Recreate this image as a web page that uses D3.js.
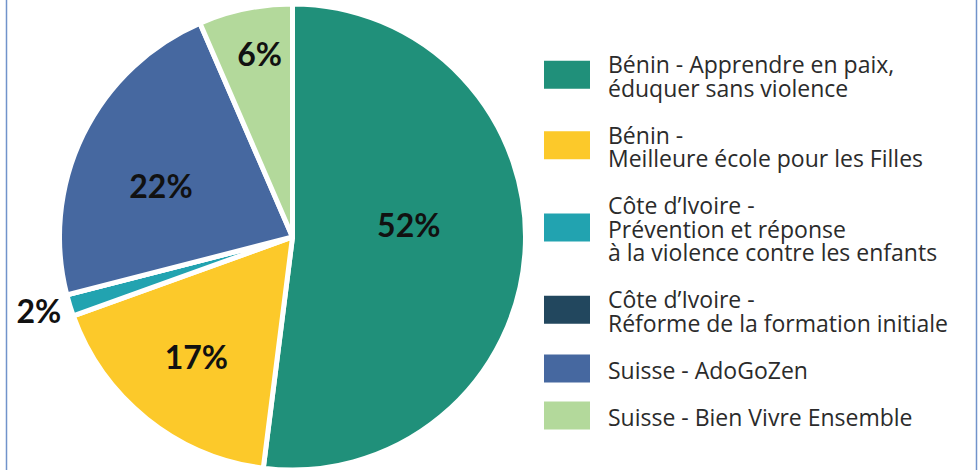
<!DOCTYPE html>
<html>
<head>
<meta charset="utf-8">
<script src="https://cdn.jsdelivr.net/npm/d3@7"></script>
<style>
  body { margin: 0; background: #fff; }
  svg { display: block; }
</style>
</head>
<body>
<svg id="chart" width="978" height="470"></svg>
<script>
// data
var projects = [
    ['Bénin - Apprendre en paix,', 'éduquer sans violence'],
    ['Bénin -', 'Meilleure école pour les Filles'],
    ['Côte d\u2019Ivoire -', 'Prévention et réponse', 'à la violence contre les enfants'],
    ['Côte d\u2019Ivoire -', 'Réforme de la formation initiale'],
    ['Suisse - AdoGoZen'],
    ['Suisse - Bien Vivre Ensemble']
];
var shares = [52, 17.5, 1.5, 0, 22.5, 6.5];
var shareLabels = ['52%', '17%', '2%', '', '22%', '6%'];
var colors = ['#20907a', '#fcc92a', '#22a3b0', '#22475e', '#4668a0', '#b3d99b'];

// label placement (layout only): radius factor and small nudges
var labelRadius = [0.5, 0.66, 1.13, 0, 0.6, 0.8];
var labelNudge = [[0, -19], [0, 0], [-2, -3], [0, 0], [-6, 11], [5, 0]];

var svg = d3.select('#chart');
var cx = 292.5, cy = 237, r = 233;

// thin frame lines at left and right
svg.append('line').attr('x1', 6.5).attr('x2', 6.5).attr('y1', 0).attr('y2', 470)
    .attr('stroke', '#7193cb').attr('stroke-width', 1.5);
svg.append('line').attr('x1', 976.5).attr('x2', 976.5).attr('y1', 0).attr('y2', 470)
    .attr('stroke', '#7193cb').attr('stroke-width', 1.5);

var pie = d3.pie().sort(null).value(function(d){ return d; });
var arcs = pie(shares);
var arc = d3.arc().innerRadius(0).outerRadius(r);

var g = svg.append('g').attr('transform', 'translate(' + cx + ',' + cy + ')');

g.selectAll('path.slice')
    .data(arcs)
    .enter().append('path')
    .attr('class', 'slice')
    .attr('d', arc)
    .attr('fill', function(d, i){ return colors[i]; })
    .attr('stroke', '#fff')
    .attr('stroke-width', 5)
    .attr('stroke-linejoin', 'round');

g.selectAll('text.pct')
    .data(arcs)
    .enter().append('text')
    .attr('class', 'pct')
    .attr('transform', function(d, i){
        var rr = r * labelRadius[i];
        var c = d3.arc().innerRadius(rr).outerRadius(rr).centroid(d);
        return 'translate(' + (c[0] + labelNudge[i][0]) + ',' + (c[1] + labelNudge[i][1]) + ')';
    })
    .attr('text-anchor', 'middle')
    .attr('dy', '0.36em')
    .style('font-family', 'Lato, "Liberation Sans", sans-serif')
    .style('font-weight', 700)
    .style('font-size', '32px')
    .attr('fill', '#111')
    .text(function(d, i){ return shareLabels[i]; });

// legend
var lineStep = 23.5;
var legend = svg.append('g');
var baseY = 73;
projects.forEach(function(lines, i){
    var n = lines.length;
    var swCenter = baseY + (n - 1) * lineStep / 2 - 10;
    legend.append('rect')
        .attr('x', 544).attr('y', swCenter - 14)
        .attr('width', 46).attr('height', 28)
        .attr('fill', colors[i]);
    lines.forEach(function(s, k){
        legend.append('text')
            .attr('x', 608).attr('y', baseY + k * lineStep)
            .style('font-family', '"Open Sans", "Noto Sans", sans-serif')
            .style('font-size', '23px')
            .attr('fill', '#2b2b2b')
            .text(s);
    });
    baseY += (n + 1) * lineStep;
});
</script>
</body>
</html>
